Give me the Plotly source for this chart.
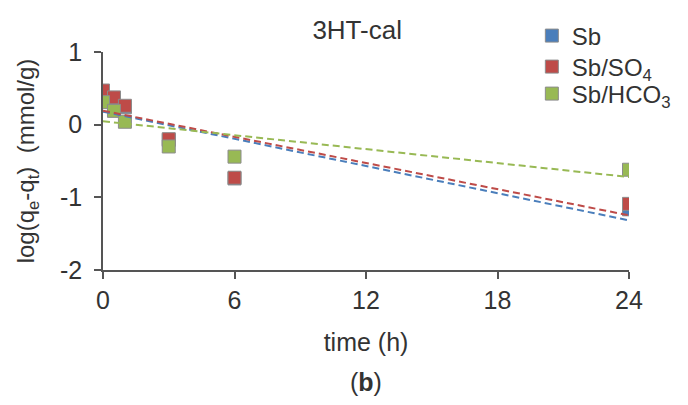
import plotly.graph_objects as go
import numpy as np

time_h = [0, 0.5, 1, 3, 6, 24]
sb = [0.45, 0.35, 0.24, -0.21, -0.74, -1.165]
sb_so4 = [0.47, 0.375, 0.26, -0.20, -0.73, -1.09]
sb_hco3 = [0.31, 0.19, 0.04, -0.30, -0.44, -0.62]

series_names = ["Sb", "Sb/SO<sub>4</sub>", "Sb/HCO<sub>3</sub>"]
series_values = [sb, sb_so4, sb_hco3]
colors = ["#4A7EBB", "#BE4B48", "#98B954"]

x_ticks = [0, 6, 12, 18, 24]
y_ticks = [1, 0, -1, -2]

W, H = 688, 405
L, R, T, B = 103, 639, 52, 270
PH = B - T
PW = R - L

def py(pix):
    return (B - pix) / PH

def px(pix):
    return (pix - L) / PW

legend_ids = ["legend", "legend2", "legend3"]
legend_y = [36, 67, 94]

fig = go.Figure()
for name, vals, c, lid in zip(series_names, series_values, colors, legend_ids):
    fig.add_trace(go.Scatter(
        x=time_h, y=vals, mode="markers", name=name, legend=lid,
        marker=dict(symbol="square", size=13, color=c,
                    line=dict(color="#8C8C8C", width=1)),
    ))

# linear trendlines (least squares fit of each series)
for vals, c in zip(series_values, colors):
    slope, intercept = np.polyfit(time_h, vals, 1)
    xs = [min(time_h), max(time_h)]
    fig.add_trace(go.Scatter(
        x=xs, y=[slope * xv + intercept for xv in xs], mode="lines",
        line=dict(color=c, width=2, dash="7px,4px"), showlegend=False,
        hoverinfo="skip",
    ))

font_family = "Liberation Sans, Arial, sans-serif"
legend_common = dict(xanchor="left", yanchor="middle", yref="paper",
                     font=dict(size=24, color="#333333"),
                     bgcolor="rgba(0,0,0,0)", borderwidth=0)

fig.update_layout(
    template="none",
    width=W, height=H,
    margin=dict(l=L, r=W - R, t=T, b=H - B, pad=0),
    paper_bgcolor="white", plot_bgcolor="white",
    font=dict(family=font_family, color="#333333", size=25),
    title=dict(text="3HT-cal", x=px(362), xref="paper", y=1 - 30 / H,
               yref="container", yanchor="middle", xanchor="center",
               font=dict(size=26, color="#333333")),
    showlegend=True,
    legend=dict(x=px(540), y=py(legend_y[0]), **legend_common),
    legend2=dict(x=px(540), y=py(legend_y[1]), **legend_common),
    legend3=dict(x=px(540), y=py(legend_y[2]), **legend_common),
    xaxis=dict(range=[0, 24], tickvals=x_ticks, ticktext=[str(v) for v in x_ticks],
               automargin=False,
               showgrid=False, zeroline=False, showline=True,
               linecolor="#555555", linewidth=1.5, ticks="outside",
               ticklen=7, tickcolor="#555555", tickwidth=1.5,
               ticklabelstandoff=0,
               title=dict(text="time (h)", font=dict(size=25), standoff=21)),
    yaxis=dict(range=[-2, 1], tickvals=y_ticks, ticktext=[str(v) for v in y_ticks],
               automargin=False,
               showgrid=False, zeroline=False, showline=True,
               linecolor="#555555", linewidth=1.5, ticks="outside",
               ticklen=7, tickcolor="#555555", tickwidth=1.5,
               ticklabelstandoff=7,
               title=dict(text="log(q<sub>e</sub>-q<sub>t</sub>)  (mmol/g)",
                          font=dict(size=24), standoff=19)),
    annotations=[dict(text="(<b>b</b>)", x=0.5, xref="paper", y=py(382),
                      yref="paper", yanchor="middle", showarrow=False,
                      font=dict(size=25, color="#333333"))],
)
fig.write_html("out.html", config={"displayModeBar": False},
               post_script="document.body.style.margin='0';document.body.style.overflow='hidden';")
